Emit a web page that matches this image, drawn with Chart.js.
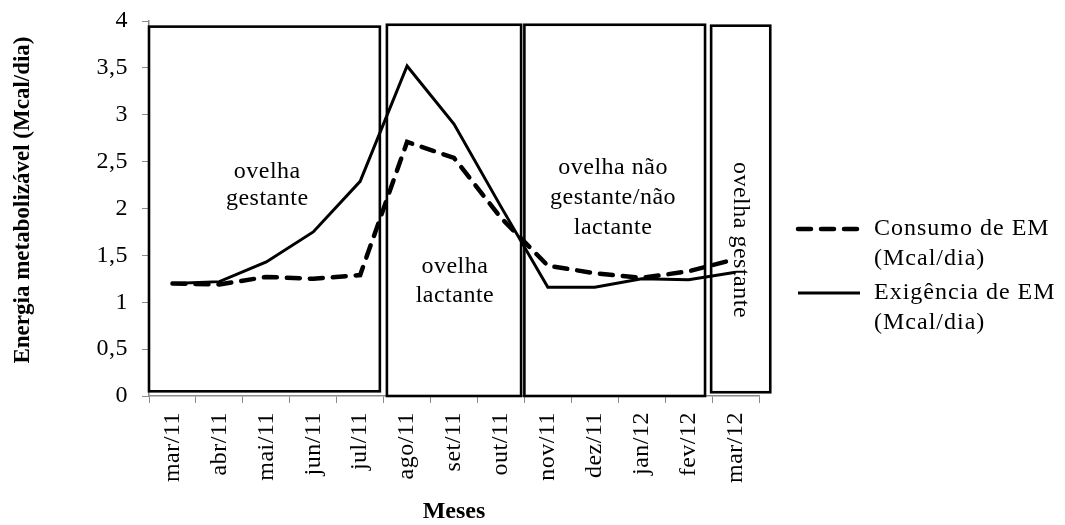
<!DOCTYPE html>
<html>
<head>
<meta charset="utf-8">
<title>Energia metabolizável</title>
<script src="https://cdn.jsdelivr.net/npm/chart.js@4.4.1/dist/chart.umd.min.js"></script>
<style>
  html, body { margin: 0; padding: 0; background: #ffffff; }
  #wrap { width: 1065px; height: 525px; position: relative; }
  canvas { display: block; }
</style>
</head>
<body>
<div id="wrap"><canvas id="chart" width="1065" height="525"></canvas></div>
<script>
// Months of the trial
const months = ['mar/11', 'abr/11', 'mai/11', 'jun/11', 'jul/11', 'ago/11', 'set/11',
                'out/11', 'nov/11', 'dez/11', 'jan/12', 'fev/12', 'mar/12'];

// Metabolizable energy intake (Mcal/day)
const consumoEM = [1.20, 1.19, 1.27, 1.25, 1.29, 2.71, 2.54, 1.90, 1.39, 1.31, 1.26, 1.33, 1.46];

// Metabolizable energy requirement (Mcal/day)
const exigenciaEM = [1.20, 1.22, 1.43, 1.75, 2.29, 3.52, 2.90, 2.02, 1.16, 1.16, 1.25, 1.24, 1.32];

// Value axis tick labels (comma decimal)
const yTickLabels = ['0', '0,5', '1', '1,5', '2', '2,5', '3', '3,5', '4'];

// Physiological phases of the ewes: text and span (in month positions / Mcal/dia)
const phaseText   = [['ovelha', 'gestante'], ['ovelha', 'lactante'],
                     ['ovelha não', 'gestante/não', 'lactante'], ['ovelha gestante']];
const phaseFrom   = [-0.5, 4.57, 7.5, 11.48];
const phaseTo     = [4.42, 7.43, 11.35, 12.74];
const phaseTop    = [3.94, 3.96, 3.96, 3.95];
const phaseBottom = [0.05, 0.0, 0.0, 0.04];

// Where each phase caption sits, and how it is set
const phaseCaption = [
  { x: 2.02,  y: 2.245, gap: 27, rotate: false },
  { x: 6.02,  y: 1.227, gap: 29, rotate: false },
  { x: 9.39,  y: 2.112, gap: 30, rotate: false },
  { x: 12.10, y: 1.664, gap: 0,  rotate: true  }
];

const SERIF = '"Liberation Serif", "Times New Roman", serif';
const AXIS_GREY = '#8a8a8a';
const TEXT_SPACING = '0.5px';

// Slightly open serif setting for the library's own tick text
const spacingPlugin = {
  id: 'spacing',
  beforeLayout(chart) { chart.ctx.letterSpacing = TEXT_SPACING; },
  beforeDraw(chart)   { chart.ctx.letterSpacing = TEXT_SPACING; }
};

// Phase boxes and captions behind the lines
const phasePlugin = {
  id: 'phases',
  beforeDatasetsDraw(chart) {
    const { ctx, scales: { x, y } } = chart;
    ctx.save();
    ctx.strokeStyle = '#000000';
    ctx.lineWidth = 2.6;
    for (let i = 0; i < phaseText.length; i++) {
      const l = x.getPixelForValue(phaseFrom[i]);
      const r = x.getPixelForValue(phaseTo[i]);
      const t = y.getPixelForValue(phaseTop[i]);
      const b = y.getPixelForValue(phaseBottom[i]);
      ctx.strokeRect(l, t, r - l, b - t);
    }
    ctx.fillStyle = '#000000';
    ctx.font = '24px ' + SERIF;
    ctx.letterSpacing = TEXT_SPACING;
    ctx.textAlign = 'center';
    ctx.textBaseline = 'middle';
    phaseText.forEach((lines, i) => {
      const cap = phaseCaption[i];
      const cx = x.getPixelForValue(cap.x);
      const cy = y.getPixelForValue(cap.y);
      ctx.save();
      ctx.translate(cx, cy);
      if (cap.rotate) ctx.rotate(Math.PI / 2);
      const start = -(lines.length - 1) * cap.gap / 2;
      lines.forEach((line, k) => ctx.fillText(line, 0, start + k * cap.gap));
      ctx.restore();
    });
    ctx.restore();
  }
};

// Axis titles and the legend on the right
const framePlugin = {
  id: 'frame',
  afterDraw(chart) {
    const { ctx, chartArea } = chart;
    ctx.save();
    ctx.letterSpacing = '0px';
    ctx.fillStyle = '#000000';
    ctx.textAlign = 'center';
    ctx.textBaseline = 'middle';

    ctx.font = 'bold 23px ' + SERIF;
    ctx.save();
    ctx.translate(23, 200);
    ctx.rotate(-Math.PI / 2);
    ctx.fillText('Energia metabolizável (Mcal/dia)', 0, 0);
    ctx.restore();

    ctx.font = 'bold 24px ' + SERIF;
    ctx.fillText('Meses', (chartArea.left + chartArea.right) / 2, 512);

    // legend
    const rows = [229, 293];
    const x0 = chartArea.right + 39, x1 = chartArea.right + 101, tx = chartArea.right + 115;
    chart.data.datasets.forEach((ds, i) => {
      const yy = rows[i];
      ctx.save();
      ctx.strokeStyle = ds.borderColor;
      ctx.lineWidth = ds.borderWidth;
      ctx.lineCap = ds.borderCapStyle || 'butt';
      ctx.setLineDash(ds.borderDash || []);
      ctx.beginPath();
      ctx.moveTo(x0, yy);
      ctx.lineTo(x1, yy);
      ctx.stroke();
      ctx.restore();
      ctx.font = '24px ' + SERIF;
      ctx.letterSpacing = '1px';
      ctx.textAlign = 'left';
      const parts = ds.label.split(' (');
      ctx.fillText(parts[0], tx, yy);
      ctx.fillText('(' + parts[1], tx, yy + 30);
    });
    ctx.restore();
  }
};

new Chart(document.getElementById('chart'), {
  type: 'line',
  data: {
    labels: months,
    datasets: [
      {
        label: 'Consumo de EM (Mcal/dia)',
        data: consumoEM,
        borderColor: '#000000',
        borderWidth: 4.5,
        borderDash: [13, 10],
        borderCapStyle: 'round',
        pointRadius: 0,
        tension: 0,
        fill: false
      },
      {
        label: 'Exigência de EM (Mcal/dia)',
        data: exigenciaEM,
        borderColor: '#000000',
        borderWidth: 3,
        pointRadius: 0,
        tension: 0,
        fill: false
      }
    ]
  },
  options: {
    responsive: false,
    animation: false,
    devicePixelRatio: 1,
    layout: { padding: { left: 0, top: 21, right: 306, bottom: 0 } },
    plugins: {
      legend: { display: false },
      tooltip: { enabled: false }
    },
    scales: {
      x: {
        type: 'category',
        offset: true,
        afterFit(scale) { scale.height = 129; },
        grid: {
          offset: true,
          drawOnChartArea: false,
          drawTicks: true,
          tickLength: 7,
          color: AXIS_GREY,
          lineWidth: 1
        },
        border: { display: true, color: AXIS_GREY, width: 1.5 },
        ticks: {
          autoSkip: false,
          minRotation: 90,
          maxRotation: 90,
          padding: 9,
          color: '#000000',
          font: { family: SERIF, size: 24 }
        }
      },
      y: {
        min: 0,
        max: 4,
        afterFit(scale) {
          scale.width = 149;
          scale.paddingTop = 12;
          scale.paddingBottom = 12;
        },
        grid: {
          drawOnChartArea: false,
          drawTicks: true,
          tickLength: 7,
          color: AXIS_GREY,
          lineWidth: 1
        },
        border: { display: true, color: AXIS_GREY, width: 1.5 },
        ticks: {
          stepSize: 0.5,
          padding: 14,
          color: '#000000',
          font: { family: SERIF, size: 24 },
          callback: (value, index) => yTickLabels[index]
        }
      }
    }
  },
  plugins: [spacingPlugin, phasePlugin, framePlugin]
});
</script>
</body>
</html>
